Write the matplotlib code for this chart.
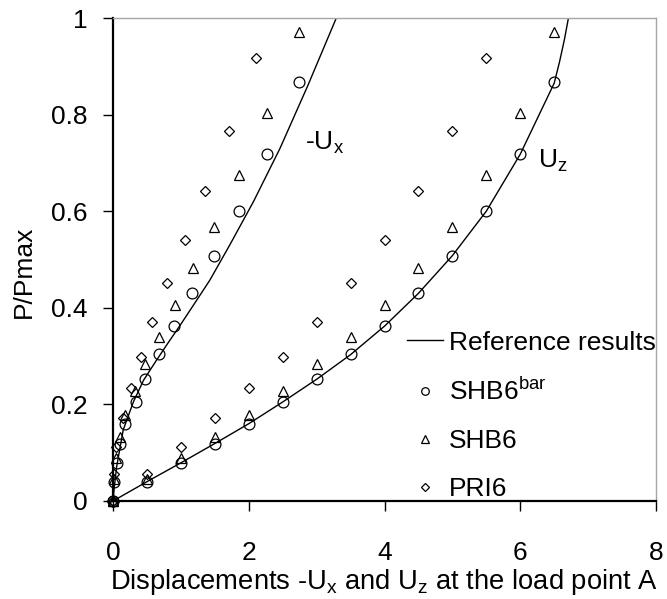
import numpy as np
import matplotlib
matplotlib.use("Agg")
import matplotlib.pyplot as plt

plt.rcParams['font.family'] = ['Liberation Sans', 'DejaVu Sans']
plt.rcParams['mathtext.fontset'] = 'custom'
plt.rcParams['mathtext.rm'] = 'Liberation Sans'
plt.rcParams['mathtext.it'] = 'Liberation Sans'

# load levels shared by both displacement components
load_bar = [0, 0.04, 0.079, 0.119, 0.16, 0.206, 0.252, 0.304, 0.363, 0.43, 0.508, 0.60, 0.718, 0.868]
load_shb6 = [0, 0.045, 0.088, 0.133, 0.178, 0.228, 0.283, 0.34, 0.406, 0.483, 0.568, 0.675, 0.803, 0.97]
load_pri6 = [0, 0.056, 0.112, 0.172, 0.233, 0.299, 0.370, 0.451, 0.540, 0.642, 0.766, 0.917]

# U_z displacements
uz_bar = [0, 0.5, 1, 1.5, 2, 2.5, 3, 3.5, 4, 4.5, 5, 5.5, 6, 6.5]
uz_shb6 = [0, 0.5, 1, 1.5, 2, 2.5, 3, 3.5, 4, 4.5, 5, 5.5, 6, 6.5]
uz_pri6 = [0, 0.5, 1, 1.5, 2, 2.5, 3, 3.5, 4, 4.5, 5, 5.5]

# -U_x displacements
ux_bar = [0, 0.015, 0.054, 0.10, 0.18, 0.34, 0.47, 0.68, 0.90, 1.16, 1.49, 1.85, 2.27, 2.74]
ux_shb6 = [0, 0.015, 0.05, 0.10, 0.18, 0.32, 0.47, 0.68, 0.91, 1.18, 1.49, 1.86, 2.27, 2.74]
ux_pri6 = [0, 0.02, 0.04, 0.15, 0.26, 0.41, 0.58, 0.80, 1.06, 1.35, 1.71, 2.11]

# reference solution curves
ref_uz_x = [0, 0.5, 1, 1.5, 2, 2.5, 3, 3.5, 4, 4.5, 5, 5.5, 6, 6.5, 6.58, 6.65, 6.71]
ref_uz_y = [0, 0.04, 0.079, 0.119, 0.16, 0.205, 0.252, 0.303, 0.362, 0.43, 0.508, 0.60, 0.718, 0.865, 0.91, 0.955, 1.0]
ref_ux_x = [0, 0.02, 0.054, 0.15, 0.30, 0.45, 0.62, 0.80, 0.99, 1.30, 1.43, 1.72, 2.07, 2.46, 2.87, 3.29]
ref_ux_y = [0, 0.03, 0.071, 0.147, 0.205, 0.25, 0.287, 0.325, 0.364, 0.43, 0.458, 0.53, 0.62, 0.73, 0.86, 1.0]

fs = 19
fig = plt.figure(figsize=(6.67, 5.99), dpi=100)
ax = fig.add_axes([113/667, 98/599, 543/667, 483/599])

ax.plot(ref_uz_x, ref_uz_y, color='black', lw=1.0, label='Reference results')
ax.plot(ref_ux_x, ref_ux_y, color='black', lw=1.0)

mk = dict(ls='none', mfc='none', mec='black', mew=0.9, clip_on=False)
ax.plot(uz_bar, load_bar, marker='o', ms=7.8, label='SHB6$^{\\rm bar}$', **mk)
ax.plot(ux_bar, load_bar, marker='o', ms=7.8, **mk)
ax.plot(uz_shb6, load_shb6, marker='^', ms=7.5, label='SHB6', **mk)
ax.plot(ux_shb6, load_shb6, marker='^', ms=7.5, **mk)
ax.plot(uz_pri6, load_pri6, marker='D', ms=5.3, label='PRI6', **mk)
ax.plot(ux_pri6, load_pri6, marker='D', ms=5.3, **mk)

ax.text(2.83, 0.741, '-U$_{\\rm x}$', fontsize=fs, va='center', ha='left')
ax.text(6.26, 0.704, 'U$_{\\rm z}$', fontsize=fs, va='center', ha='left')

ax.set_xlim(0, 8)
ax.set_ylim(0, 1)
ax.set_xticks([0, 2, 4, 6, 8])
ax.set_yticks([0, 0.2, 0.4, 0.6, 0.8, 1.0])
ax.set_yticklabels(['0', '0.2', '0.4', '0.6', '0.8', '1'])
ax.tick_params(axis='x', direction='out', length=7.5, width=1, pad=21, labelsize=fs)
ax.tick_params(axis='y', direction='out', length=7.5, width=1, pad=11, labelsize=fs)

for s in ['left', 'bottom']:
    ax.spines[s].set_linewidth(1.6)
    ax.spines[s].set_color('black')
for s in ['top', 'right']:
    ax.spines[s].set_linewidth(1.0)
    ax.spines[s].set_color('#a6a6a6')

ax.set_xlabel('Displacements -U$_{\\rm x}$ and U$_{\\rm z}$ at the load point A', fontsize=19.7, labelpad=2)
fig.text(24/667, 1 - 272/599, 'P/Pmax', rotation=90, fontsize=fs, ha='center', va='center')

leg = ax.legend(loc='upper left', bbox_to_anchor=((407 - 113)/543, 0.353), frameon=False,
                fontsize=fs, borderpad=0, borderaxespad=0, handlelength=1.37,
                handletextpad=0.22, labelspacing=0.9, markerscale=0.7)

fig.savefig('out.png', dpi=100)
